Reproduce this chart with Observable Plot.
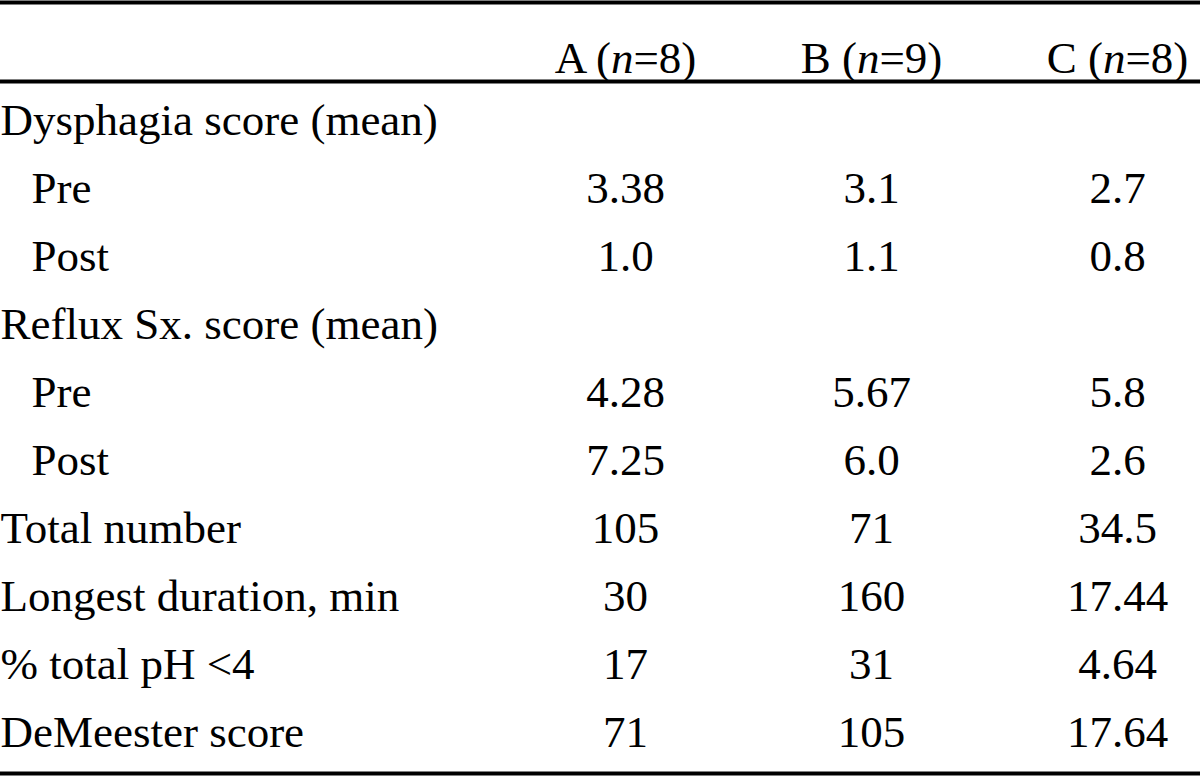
<!DOCTYPE html>
<html>
<head>
<meta charset="utf-8">
<script src="https://cdn.jsdelivr.net/npm/d3@7"></script>
<script src="https://cdn.jsdelivr.net/npm/@observablehq/plot@0.6"></script>
<style>
  html, body { margin: 0; padding: 0; background: #fff; }
  #chart svg { display: block; }
</style>
</head>
<body>
<div id="chart"></div>
<script>
// ---- data ----
const groups = ["A", "B", "C"];
const groupN = [8, 9, 8];
const rowLabels = [
  "Dysphagia score (mean)", "Pre", "Post",
  "Reflux Sx. score (mean)", "Pre ", "Post ",
  "Total number", "Longest duration, min", "% total pH <4", "DeMeester score"
];
const rowIsSub = [false, true, true, false, true, true, false, false, false, false];
const valuesA = ["", "3.38", "1.0", "", "4.28", "7.25", "105", "30", "17", "71"];
const valuesB = ["", "3.1", "1.1", "", "5.67", "6.0", "71", "160", "31", "105"];
const valuesC = ["", "2.7", "0.8", "", "5.8", "2.6", "34.5", "17.44", "4.64", "17.64"];

// ---- tables built from the arrays ----
const header = groups.map((g, i) => ({group: g, label: `${g} (n=${groupN[i]})`}));
const rows = rowLabels.map((label, i) => ({label, sub: rowIsSub[i]}));
const cells = [];
rowLabels.forEach((label, i) => {
  [valuesA, valuesB, valuesC].forEach((vals, j) => {
    if (vals[i] !== "") cells.push({row: label, group: groups[j], value: vals[i]});
  });
});

const FONT = "Liberation Serif, Times New Roman, serif";
const FS = 45;

const chart = Plot.plot({
  width: 1200,
  height: 776,
  marginTop: 2,
  marginBottom: 3,
  marginLeft: 0,
  marginRight: 0,
  style: {fontFamily: FONT, background: "#fff", color: "#000"},
  x: {type: "point", domain: groups, range: [624, 1117], padding: 0, axis: null},
  y: {type: "point", domain: rowLabels, range: [117, 734], padding: 0, axis: null},
  marks: [
    Plot.frame({anchor: "top", stroke: "#000", strokeWidth: 4}),
    Plot.frame({anchor: "bottom", stroke: "#000", strokeWidth: 4}),
    Plot.ruleY([rowLabels[0]], {dy: -39, stroke: "#000", strokeWidth: 4}),
    Plot.text(header, {x: "group", frameAnchor: "top", dy: 39, text: "label", fontSize: FS, fill: "#000", className: "hdr"}),
    Plot.text(rows.filter(d => !d.sub), {y: "label", text: "label", frameAnchor: "left", textAnchor: "start", dx: 0, fontSize: FS, fill: "#000"}),
    Plot.text(rows.filter(d => d.sub), {y: "label", text: d => d.label.trim(), frameAnchor: "left", textAnchor: "start", dx: 31, fontSize: FS, fill: "#000"}),
    Plot.text(cells, {x: "group", y: "row", text: "value", fontSize: FS, fill: "#000"})
  ]
});

// italicise the "n" in the header labels (kept as real text)
d3.select(chart).selectAll("g.hdr text").each(function() {
  const t = this.textContent;
  const m = t.match(/^(.*\()n(=.*)$/);
  if (m) {
    const el = d3.select(this);
    el.text("");
    el.append("tspan").text(m[1]);
    el.append("tspan").attr("font-style", "italic").text("n");
    el.append("tspan").text(m[2]);
  }
});

document.getElementById("chart").appendChild(chart);
</script>
</body>
</html>
